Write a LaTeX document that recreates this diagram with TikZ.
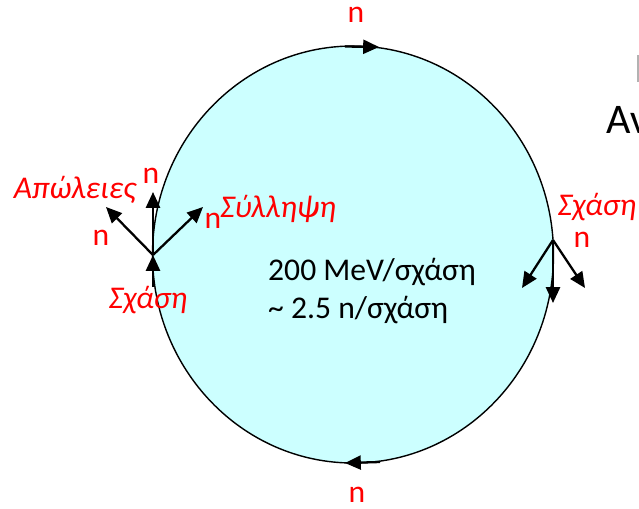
\documentclass[tikz,border=0pt]{standalone}
\usepackage{fontspec}
\setmainfont{Carlito}
\usetikzlibrary{arrows.meta}

\definecolor{reactor}{RGB}{204,255,255}

\tikzset{
  lbl/.style={red, font=\fontsize{18}{21}\selectfont\itshape},
  nlbl/.style={red, font=\fontsize{18}{21}\selectfont},
  ntr/.style={line width=1.3pt, -{Triangle[length=9pt,width=8pt]}},
}

\begin{document}
\begin{tikzpicture}[x=0.02cm, y=-0.02cm]
                \useasboundingbox (0,0) rectangle (639,508);
                % Reactor (kyklos)
                \draw[line width=0.8pt, fill=reactor] (353,254.5) ellipse (200.5 and 208.5);
                \node[anchor=west, font=\fontsize{18}{22}\selectfont] (energy) at (262,272) {200 MeV/σχάση};
                \node[anchor=west, font=\fontsize{18}{22}\selectfont] (yield) at (262,310) {\textasciitilde\ 2.5 n/σχάση};

                % Kyklos neutronion: panw kai katw
                \coordinate (topA) at (345,46.5);
                \coordinate (topB) at (379,47);
                \draw[ntr] (topA) -- (topB);
                \node[nlbl] (ntop) at (356,15) {n};
                \coordinate (botA) at (380,462);
                \coordinate (botB) at (345,463);
                \draw[ntr] (botA) -- (botB);
                \node[nlbl] (nbot) at (357,495) {n};

                % Aristera: sxasi kai 3 neutronia
                \coordinate (L) at (153,255);
                \coordinate (Lin) at (153,287);
                \coordinate (Lup) at (153,192);
                \coordinate (Lleft) at (106,207);
                \coordinate (Lright) at (203,207);
                \draw[ntr] (Lin) -- (L);
                \draw[ntr] (L) -- (Lup);
                \draw[ntr] (L) -- (Lleft);
                \draw[ntr] (L) -- (Lright);
                \node[lbl] (fisL) at (148,300) {Σχάση};
                \node[nlbl] (nup) at (151,176) {n};
                \node[nlbl] (nleft) at (101,238) {n};
                \node[nlbl] (nright) at (213,221) {n};
                \node[lbl] (loss) at (75,190) {Απώλειες};
                \node[lbl] (capt) at (278,209) {Σύλληψη};

                % Deksia: sxasi
                \coordinate (R) at (553,240);
                \coordinate (Rl) at (522,288);
                \coordinate (Rd) at (553,303);
                \coordinate (Rr) at (585,288);
                \draw[ntr] (R) -- (Rl);
                \draw[ntr] (R) -- (Rd);
                \draw[ntr] (R) -- (Rr);
                \node[lbl] (fisR) at (597,207) {Σχάση};
                \node[nlbl] (nR) at (582,240) {n};

                % kommeno keimeno sto perithorio
                \node[anchor=west, font=\fontsize{24}{28}\selectfont] (title) at (600,120) {Αν};
                \draw[gray!60, line width=0.6pt] (638,55) -- (638,82);
\end{tikzpicture}
\end{document}
